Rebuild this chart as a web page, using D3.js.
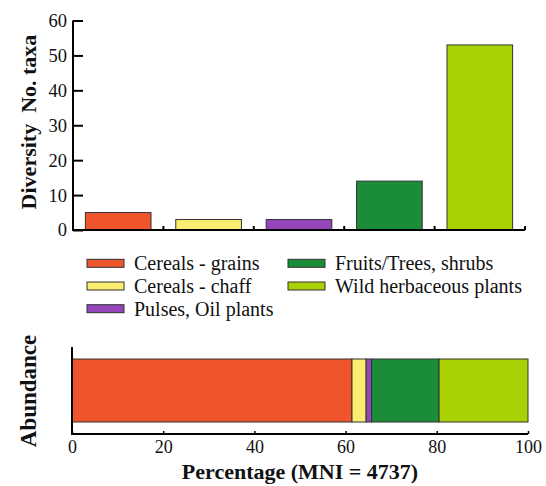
<!DOCTYPE html>
<html>
<head>
<meta charset="utf-8">
<script src="https://cdn.jsdelivr.net/npm/d3@7"></script>
<style>
  html, body { margin: 0; padding: 0; background: #fff; }
  svg { display: block; }
</style>
</head>
<body>
<svg id="chart" width="546" height="486"></svg>
<script>
// Plant groups, shared by both panels and the legend
const categories = ["Cereals - grains", "Cereals - chaff", "Pulses, Oil plants", "Fruits/Trees, shrubs", "Wild herbaceous plants"];
const colors = ["#EE552C", "#F9EC70", "#9345B9", "#1B8C37", "#A8D206"];

// Diversity: number of taxa per group
const taxaCounts = [5, 3, 3, 14, 53];
const diversityTicks = [0, 10, 20, 30, 40, 50, 60];

// Abundance: share of MNI per group (percent)
const abundancePct = [61.4, 3.1, 1.2, 14.8, 19.5];
const abundanceTicks = [0, 20, 40, 60, 80, 100];

const FONT = '"Liberation Serif"';
const svg = d3.select("#chart");

/* ---------- Diversity panel ---------- */
const divBox = { left: 73, right: 525, y0: 230, y1: 20.5 };

const xBand = d3.scaleBand()
  .domain(categories)
  .range([divBox.left, divBox.right])
  .paddingInner(0.274)
  .paddingOuter(0.137);

const yDiv = d3.scaleLinear().domain([0, 60]).range([divBox.y0, divBox.y1]);

svg.append("g").selectAll("rect")
  .data(categories)
  .join("rect")
  .attr("x", d => xBand(d))
  .attr("y", (d, i) => yDiv(taxaCounts[i]))
  .attr("width", xBand.bandwidth())
  .attr("height", (d, i) => yDiv(0) - yDiv(taxaCounts[i]))
  .attr("fill", (d, i) => colors[i])
  .attr("stroke", "#333")
  .attr("stroke-width", 1);

const yAxisTop = svg.append("g")
  .attr("transform", `translate(${divBox.left},0)`)
  .call(d3.axisLeft(yDiv).tickValues(diversityTicks).tickSizeInner(-10).tickSizeOuter(0).tickPadding(6));
yAxisTop.select(".domain").remove();
yAxisTop.selectAll(".tick line").attr("stroke", "#000").attr("stroke-width", 2);
yAxisTop.selectAll(".tick text").attr("font-size", 18.5).attr("fill", "#111").style("font-family", FONT);

// category boundary ticks on the baseline
const step = xBand.step();
svg.append("g").selectAll("line")
  .data(categories)
  .join("line")
  .attr("x1", d => xBand(d) + xBand.bandwidth() + step * xBand.paddingInner() / 2)
  .attr("x2", d => xBand(d) + xBand.bandwidth() + step * xBand.paddingInner() / 2)
  .attr("y1", divBox.y0)
  .attr("y2", divBox.y0 - 4)
  .attr("stroke", "#000")
  .attr("stroke-width", 2);

// axis lines
svg.append("path")
  .attr("d", `M${divBox.left},${yDiv(60)}V${divBox.y0}H${divBox.right}`)
  .attr("fill", "none").attr("stroke", "#000").attr("stroke-width", 2);

svg.append("text")
  .attr("transform", `translate(36,122) rotate(-90)`)
  .attr("text-anchor", "middle")
  .attr("font-size", 22).attr("font-weight", "bold").attr("fill", "#111")
  .style("font-family", FONT)
  .attr("xml:space", "preserve")
  .text("Diversity  No. taxa");

/* ---------- Legend ---------- */
const legendCols = [87, 288];
const legendRows = [263.3, 286, 308.7];
const legendPos = [[0, 0], [0, 1], [0, 2], [1, 0], [1, 1]];
const legend = svg.append("g").selectAll("g")
  .data(categories)
  .join("g")
  .attr("transform", (d, i) => `translate(${legendCols[legendPos[i][0]]},${legendRows[legendPos[i][1]]})`);
legend.append("rect")
  .attr("x", 0).attr("y", -4).attr("width", 37).attr("height", 8)
  .attr("fill", (d, i) => colors[i])
  .attr("stroke", "#333").attr("stroke-width", 1);
legend.append("text")
  .attr("x", 47).attr("y", 0).attr("dy", "0.35em")
  .attr("font-size", 20).attr("fill", "#111")
  .style("font-family", FONT)
  .text(d => d);

/* ---------- Abundance panel ---------- */
const abBox = { left: 72, right: 528, axisY: 434, axisTop: 347, barTop: 359, barBottom: 422 };
const xPct = d3.scaleLinear().domain([0, 100]).range([abBox.left, abBox.right]);

const stackRow = {};
categories.forEach((c, i) => { stackRow[c] = abundancePct[i]; });
const stacked = d3.stack().keys(categories)([stackRow]);

svg.append("g").selectAll("rect")
  .data(stacked)
  .join("rect")
  .attr("x", s => xPct(s[0][0]))
  .attr("width", s => xPct(s[0][1]) - xPct(s[0][0]))
  .attr("y", abBox.barTop)
  .attr("height", abBox.barBottom - abBox.barTop)
  .attr("fill", (s, i) => colors[i])
  .attr("stroke", "#333")
  .attr("stroke-width", 1);

const xAxisBot = svg.append("g")
  .attr("transform", `translate(0,${abBox.axisY})`)
  .call(d3.axisBottom(xPct).tickValues(abundanceTicks).tickSizeInner(-3).tickSizeOuter(0).tickPadding(6));
xAxisBot.select(".domain").remove();
xAxisBot.selectAll(".tick line").attr("stroke", "#000").attr("stroke-width", 1.5);
xAxisBot.selectAll(".tick text").attr("font-size", 18).attr("fill", "#111").style("font-family", FONT);

svg.append("path")
  .attr("d", `M${abBox.left},${abBox.axisTop}V${abBox.axisY}H${abBox.right}`)
  .attr("fill", "none").attr("stroke", "#000").attr("stroke-width", 2);

svg.append("text")
  .attr("x", 300)
  .attr("y", 479)
  .attr("text-anchor", "middle")
  .attr("font-size", 22).attr("font-weight", "bold").attr("fill", "#111")
  .style("font-family", FONT)
  .text("Percentage (MNI = 4737)");

svg.append("text")
  .attr("transform", `translate(36,391) rotate(-90)`)
  .attr("text-anchor", "middle")
  .attr("font-size", 23).attr("font-weight", "bold").attr("fill", "#111")
  .style("font-family", FONT)
  .text("Abundance");
</script>
</body>
</html>
